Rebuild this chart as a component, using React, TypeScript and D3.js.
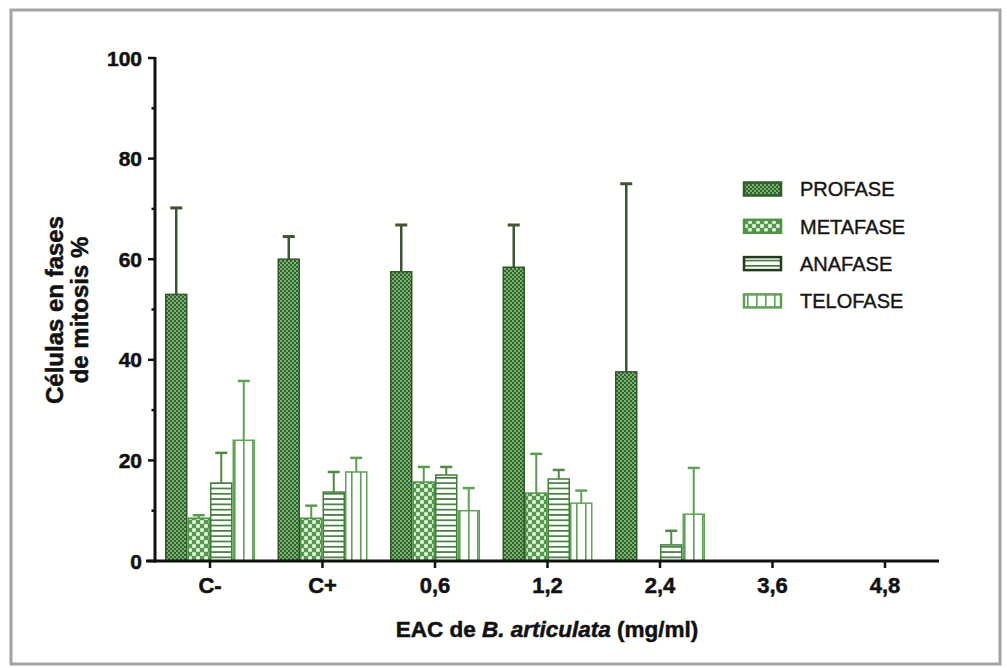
import React from "react";
import * as d3 from "d3";

// Mitotic phase percentages per treatment (mean and SD)
const categories = ["C-", "C+", "0,6", "1,2", "2,4", "3,6", "4,8"];
const phases = ["PROFASE", "METAFASE", "ANAFASE", "TELOFASE"];
const profase = [53, 60, 57.5, 58.4, 37.6, 0, 0];
const profaseSD = [17.2, 4.5, 9.3, 8.4, 37.4, 0, 0];
const metafase = [8.5, 8.5, 15.7, 13.5, 0, 0, 0];
const metafaseSD = [0.6, 2.5, 3, 7.8, 0, 0, 0];
const anafase = [15.5, 13.7, 17.1, 16.3, 3.2, 0, 0];
const anafaseSD = [6, 4, 1.6, 1.8, 2.8, 0, 0];
const telofase = [24, 17.7, 10, 11.5, 9.3, 0, 0];
const telofaseSD = [11.8, 2.8, 4.5, 2.5, 9.2, 0, 0];
const yTicks = [0, 20, 40, 60, 80, 100];
const yMinorTicks = [10, 30, 50, 70, 90];

const means = [profase, metafase, anafase, telofase];
const sds = [profaseSD, metafaseSD, anafaseSD, telofaseSD];

const W = 1007;
const H = 668;

const phaseStyle = [
  { fill: "url(#pat-pro)", stroke: "#2e5b28", err: "#3d5530", errW: 2.5 },
  { fill: "url(#pat-meta)", stroke: "#4c9643", err: "#5a9b4e", errW: 2 },
  { fill: "url(#pat-ana)", stroke: "#3f7f38", err: "#4f8a45", errW: 2 },
  { fill: "url(#pat-telo)", stroke: "#5ca452", err: "#5ca452", errW: 2 },
];

const FONT = "'Liberation Sans', Arial, Helvetica, sans-serif";

export default function App() {
  const y = d3.scaleLinear().domain([0, 100]).range([561, 58]);
  const x = d3
    .scaleBand<string>()
    .domain(categories)
    .range([153.75, 941.25])
    .paddingInner(0.2)
    .paddingOuter(0.1);
  const xi = d3.scaleBand<string>().domain(phases).range([0, x.bandwidth()]);

  const axisX0 = 155;
  const y0 = y(0);
  const heavy = { stroke: "#111", strokeWidth: 0.5 };

  return (
    <svg
      width={W}
      height={H}
      viewBox={`0 0 ${W} ${H}`}
      style={{ position: "absolute", left: 0, top: 0, display: "block", background: "#ffffff" }}
      fontFamily={FONT}
    >
      <defs>
        <pattern id="pat-pro" patternUnits="userSpaceOnUse" width="4" height="4">
          <rect width="4" height="4" fill="#2d6628" />
          <circle cx="1" cy="1" r="0.95" fill="#9fcf96" />
          <circle cx="3" cy="3" r="0.95" fill="#9fcf96" />
        </pattern>
        <pattern id="pat-meta" patternUnits="userSpaceOnUse" width="8" height="8">
          <rect width="8" height="8" fill="#4f9a46" />
          <rect x="0.2" y="0.2" width="3.6" height="3.6" fill="#eef7ea" />
          <rect x="4.2" y="4.2" width="3.6" height="3.6" fill="#eef7ea" />
        </pattern>
        <pattern id="pat-ana" patternUnits="userSpaceOnUse" width="6" height="5.3">
          <rect width="6" height="5.3" fill="#ffffff" />
          <rect y="0" width="6" height="1.7" fill="#3f7f38" />
        </pattern>
        <pattern id="pat-telo" patternUnits="userSpaceOnUse" width="9" height="6">
          <rect width="9" height="6" fill="#ffffff" />
          <rect x="0" width="1.6" height="6" fill="#5ca452" />
        </pattern>
      </defs>

      {/* outer frame */}
      <rect x={11} y={10} width={989} height={654} fill="#fffffe" stroke="#a3a3a3" strokeWidth={3} />

      {/* bars */}
      {phases.map((p, pi) =>
        categories.map((c, ci) => {
          const v = means[pi][ci];
          if (v <= 0) return null;
          const bx = (x(c) as number) + (xi(p) as number);
          const bw = xi.bandwidth();
          return (
            <rect
              key={`b-${p}-${c}`}
              x={bx + 0.75}
              y={y(v)}
              width={bw - 1.5}
              height={y0 - y(v)}
              fill={phaseStyle[pi].fill}
              stroke={phaseStyle[pi].stroke}
              strokeWidth={1.5}
            />
          );
        })
      )}

      {/* error bars (upper only) */}
      {phases.map((p, pi) =>
        categories.map((c, ci) => {
          const v = means[pi][ci];
          const sd = sds[pi][ci];
          if (v <= 0 || sd <= 0) return null;
          const cx = (x(c) as number) + (xi(p) as number) + xi.bandwidth() / 2;
          const st = phaseStyle[pi];
          return (
            <g key={`e-${p}-${c}`} stroke={st.err} strokeWidth={st.errW}>
              <line x1={cx} x2={cx} y1={y(v)} y2={y(v + sd)} />
              <line x1={cx - 6} x2={cx + 6} y1={y(v + sd)} y2={y(v + sd)} strokeWidth={st.errW + 0.5} />
            </g>
          );
        })
      )}

      {/* y axis */}
      <line x1={axisX0} x2={axisX0} y1={y(100) - 1} y2={y0 + 1.5} stroke="#111" strokeWidth={3} />
      {yTicks.map((t) => (
        <g key={`yt-${t}`}>
          <line x1={axisX0 - 7} x2={axisX0} y1={y(t)} y2={y(t)} stroke="#111" strokeWidth={2.5} />
          <text
            x={142}
            y={y(t)}
            dy="0.36em"
            textAnchor="end"
            fontSize={21}
            fontWeight="bold"
            fill="#111"
            {...heavy}
          >
            {t}
          </text>
        </g>
      ))}
      {yMinorTicks.map((t) => (
        <line key={`ym-${t}`} x1={axisX0 - 3.5} x2={axisX0} y1={y(t)} y2={y(t)} stroke="#111" strokeWidth={2.5} />
      ))}

      {/* x axis */}
      <line x1={146} x2={939} y1={y0} y2={y0} stroke="#111" strokeWidth={3} />
      {categories.map((c) => {
        const cx = (x(c) as number) + x.bandwidth() / 2;
        return (
          <g key={`xt-${c}`}>
            <line x1={cx} x2={cx} y1={y0} y2={y0 + 7} stroke="#111" strokeWidth={2.5} />
            <text x={cx} y={593} textAnchor="middle" fontSize={22} fontWeight="bold" fill="#111" {...heavy}>
              {c}
            </text>
          </g>
        );
      })}

      {/* axis titles */}
      <text x={547} y={637} textAnchor="middle" fontSize={22.5} fontWeight="bold" fill="#111" {...heavy}>
        EAC de <tspan fontStyle="italic">B. articulata</tspan> (mg/ml)
      </text>
      <g transform="translate(63,310) rotate(-90)">
        <text x={0} y={0} textAnchor="middle" fontSize={24} fontWeight="bold" fill="#111" {...heavy}>
          Células en fases
        </text>
        <text x={0} y={25} textAnchor="middle" fontSize={24} fontWeight="bold" fill="#111" {...heavy}>
          de mitosis %
        </text>
      </g>

      {/* legend */}
      {phases.map((p, pi) => {
        const cy = 189 + pi * 37.3;
        return (
          <g key={`lg-${p}`}>
            <rect
              x={744}
              y={cy - 6.5}
              width={37}
              height={13}
              fill={phaseStyle[pi].fill}
              stroke={pi === 2 ? "#1f3d1b" : phaseStyle[pi].stroke}
              strokeWidth={2.5}
            />
            <text x={800} y={cy} dy="0.36em" fontSize={20} fill="#151515" stroke="#151515" strokeWidth={0.4}>
              {p}
            </text>
          </g>
        );
      })}
    </svg>
  );
}
